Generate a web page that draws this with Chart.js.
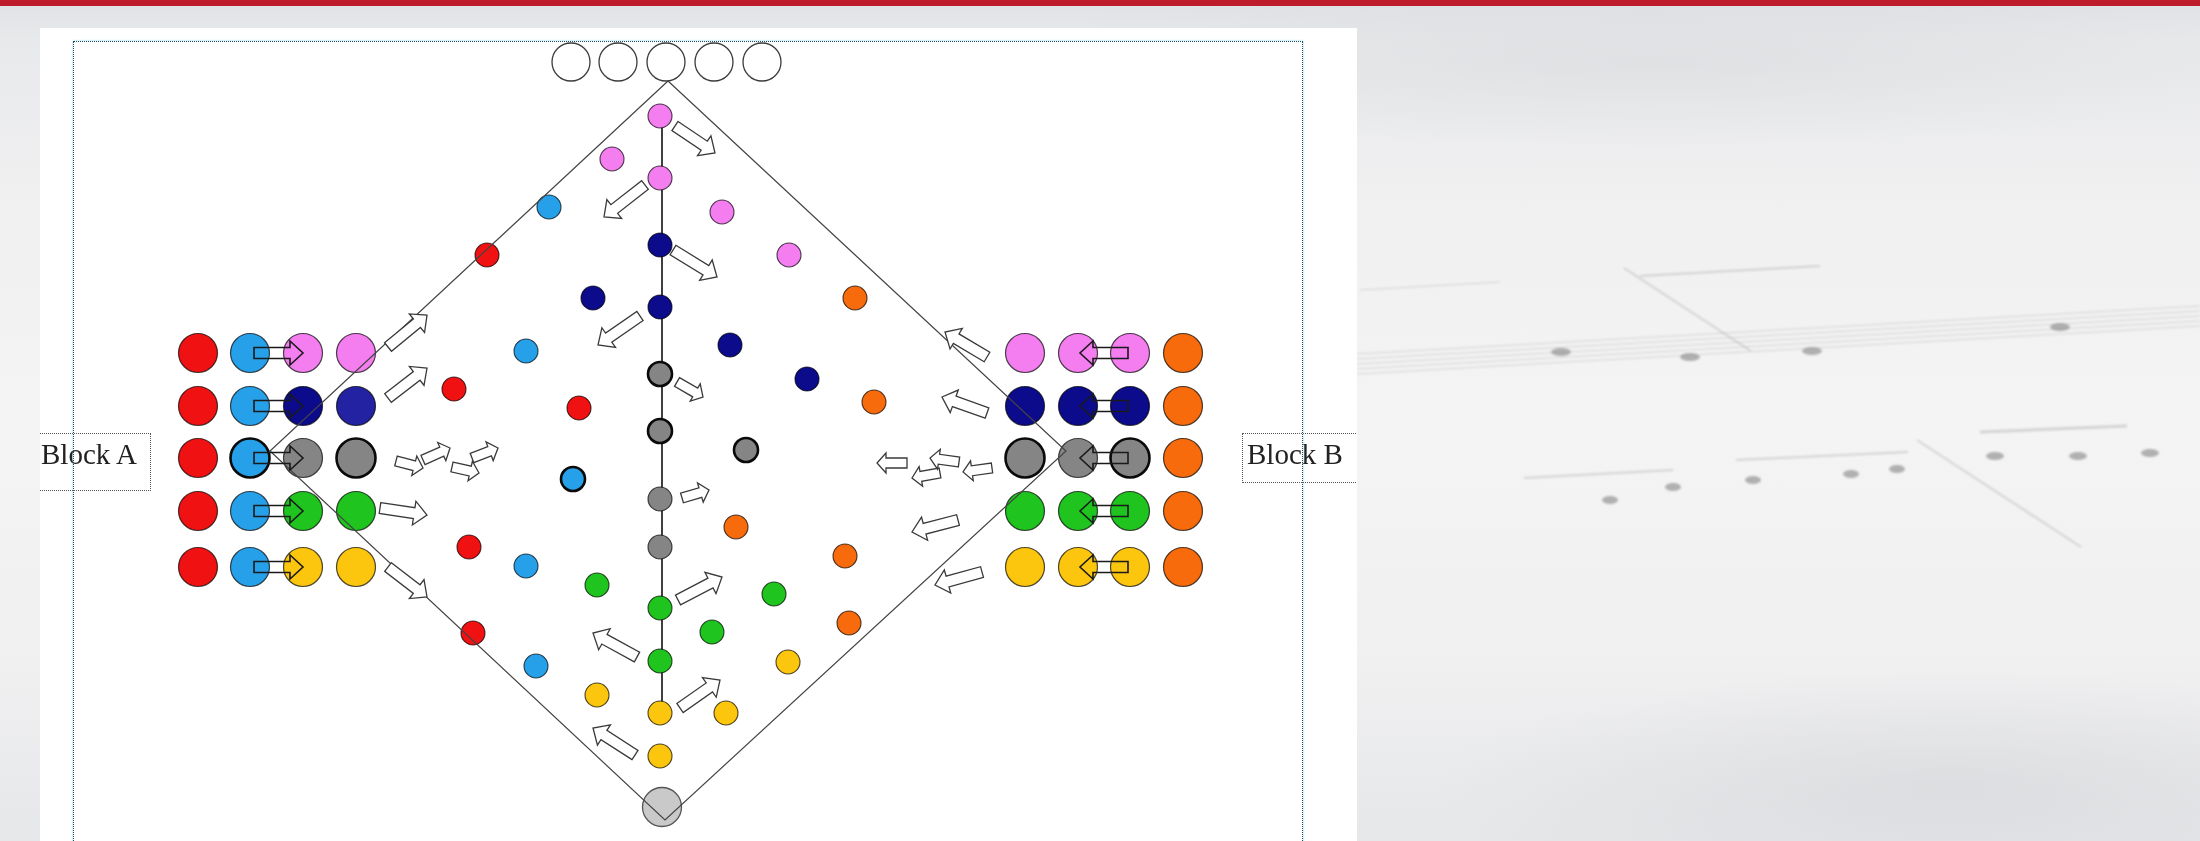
<!DOCTYPE html>
<html lang="en">

<head>
    <meta charset="UTF-8">
    <title>Block A / Block B drill</title>
    <script src="https://cdn.jsdelivr.net/npm/chart.js"></script>
    <style>
        html,
        body {
            margin: 0;
            padding: 0;
        }

        body {
            width: 2200px;
            height: 841px;
            overflow: hidden;
            position: relative;
            font-family: "Liberation Serif", "Times New Roman", serif;
            background:
                radial-gradient(ellipse 520px 120px at 1950px 790px, rgba(205, 206, 210, 0.45), rgba(205, 206, 210, 0)),
                radial-gradient(ellipse 650px 90px at 1650px 60px, rgba(212, 213, 216, 0.45), rgba(212, 213, 216, 0)),
                linear-gradient(to bottom, #e0e1e4 0px, #e8e9eb 40px, #f0f0f1 200px, #f4f4f5 430px, #f0f0f1 660px, #e6e7e9 841px);
        }

        #topbar {
            position: absolute;
            left: 0;
            top: 0;
            width: 2200px;
            height: 6px;
            background: #be1b2c;
        }

        #music {
            position: absolute;
            left: 0;
            top: 0;
            filter: blur(1.3px);
        }

        #panel {
            position: absolute;
            left: 40px;
            top: 28px;
            width: 1317px;
            height: 813px;
            background: #fff;
            overflow: hidden;
        }

        #chart {
            position: absolute;
            left: 0;
            top: 0;
        }

        .block {
            position: absolute;
            box-sizing: border-box;
            border: 1px dotted #555;
            font-size: 29px;
            line-height: 29px;
            color: #222;
            white-space: nowrap;
        }

        #blockA {
            left: -2px;
            top: 405px;
            width: 113px;
            height: 58px;
            padding: 6px 0 0 2px;
        }

        #blockB {
            left: 1202px;
            top: 405px;
            width: 140px;
            height: 50px;
            padding: 6px 0 0 4px;
        }

        #frame {
            position: absolute;
            left: 33px;
            top: 13px;
            width: 1230px;
            height: 900px;
            box-sizing: border-box;
            border: 1px dotted #1c4f66;
            box-shadow: 0 0 2px rgba(110, 200, 230, 0.8);
        }
    </style>
</head>

<body>
    <div id="topbar"></div>

    <!-- blurred sheet music behind the panel -->
    <svg id="music" width="2200" height="841">
        <g stroke="rgba(140,140,140,0.3)" stroke-width="1" fill="none">
            <line x1="1357" y1="354" x2="2200" y2="306" />
            <line x1="1357" y1="359" x2="2200" y2="311" />
            <line x1="1357" y1="364" x2="2200" y2="316" />
            <line x1="1357" y1="369" x2="2200" y2="321" />
            <line x1="1357" y1="374" x2="2200" y2="326" />
            <line x1="1360" y1="290" x2="1500" y2="282" />
            <line x1="1624" y1="268" x2="1751" y2="351" stroke-width="2" />
            <line x1="1917" y1="440" x2="2081" y2="547" stroke-width="2" />
            <line x1="1980" y1="432" x2="2127" y2="426" stroke-width="3" />
            <line x1="1736" y1="460" x2="1908" y2="452" stroke-width="2" />
            <line x1="1524" y1="478" x2="1673" y2="470" stroke-width="2" />
            <line x1="1640" y1="276" x2="1820" y2="266" stroke-width="2" />
        </g>
        <g fill="rgba(110,110,110,0.5)">
            <ellipse cx="1561" cy="352" rx="10" ry="4" />
            <ellipse cx="1690" cy="357" rx="10" ry="4" />
            <ellipse cx="1812" cy="351" rx="10" ry="4" />
            <ellipse cx="2060" cy="327" rx="10" ry="4" />
            <ellipse cx="1995" cy="456" rx="9" ry="4" />
            <ellipse cx="2078" cy="456" rx="9" ry="4" />
            <ellipse cx="2150" cy="453" rx="9" ry="4" />
            <ellipse cx="1753" cy="480" rx="8" ry="4" />
            <ellipse cx="1851" cy="474" rx="8" ry="4" />
            <ellipse cx="1897" cy="469" rx="8" ry="4" />
            <ellipse cx="1673" cy="487" rx="8" ry="4" />
            <ellipse cx="1610" cy="500" rx="8" ry="4" />
        </g>
    </svg>

    <div id="panel">
        <canvas id="chart" width="1317" height="813"></canvas>
        <div class="block" id="blockA">Block A</div>
        <div class="block" id="blockB">Block B</div>
        <div id="frame"></div>
    </div>

    <script>
        // field frame: origin at the middle of the diamond, x to the right, y up

        // players waiting in the two blocks (5 rows x 4 columns)
        const rowY = [97, 44, -8, -61, -117];
        const blockAX = [-468, -416, -363, -310];
        const blockBX = [359, 412, 464, 517];
        const blockATeams = [
            ['red', 'blue', 'pink', 'pink'],
            ['red', 'blue', 'navy', 'navy2'],
            ['red', 'blue', 'grey', 'grey'],
            ['red', 'blue', 'green', 'green'],
            ['red', 'blue', 'yellow', 'yellow']
        ];
        const blockBTeams = [
            ['pink', 'pink', 'pink', 'orange'],
            ['navy', 'navy', 'navy', 'orange'],
            ['grey', 'grey', 'grey', 'orange'],
            ['green', 'green', 'green', 'orange'],
            ['yellow', 'yellow', 'yellow', 'orange']
        ];
        // [row, column] of marked players
        const blockAMarked = [[2, 1], [2, 3]];
        const blockBMarked = [[2, 0], [2, 2]];

        // empty spots on top, ball at the bottom
        const benchX = [-95, -48, 0, 48, 96];
        const benchY = [388, 388, 388, 388, 388];
        const ballX = [-4];
        const ballY = [-357];

        // diamond and centre line
        const diamondX = [2, 400, -1, -396, 2];
        const diamondY = [369, -1, -370, -1, 369];
        const centreX = [-4, -4];
        const centreY = [334, -263];

        // players on the field
        const fieldX = [-6, -54, -6, 56, 123,
            -6, -73, -6, 64, 141,
            -117, -140, -93, -140, -130,
            -179, -212, -87, -197, -193,
            189, 208, 70, 179, 183,
            -6, -6, -6, -6, 80,
            -6, -6, -69, 108, 46,
            -6, -6, -69, 60, 122];
        const fieldY = [334, 291, 272, 238, 195,
            205, 152, 143, 105, 71,
            243, 99, -29, -116, -216,
            195, 61, 42, -97, -183,
            152, 48, -77, -106, -173,
            76, 19, -49, -97, 0,
            -158, -211, -135, -144, -182,
            -263, -306, -245, -263, -212];
        const fieldTeam = ['pink', 'pink', 'pink', 'pink', 'pink',
            'navy', 'navy', 'navy', 'navy', 'navy',
            'blue', 'blue', 'blue', 'blue', 'blue',
            'red', 'red', 'red', 'red', 'red',
            'orange', 'orange', 'orange', 'orange', 'orange',
            'grey', 'grey', 'grey', 'grey', 'grey',
            'green', 'green', 'green', 'green', 'green',
            'yellow', 'yellow', 'yellow', 'yellow', 'yellow'];
        const fieldMarked = [12, 25, 26, 29];

        // movement arrows: from -> to
        const moveFromX = [9, -21, 7, -26, -278, -278, -270, -243, -214, -194, -286, -278, 11, 16,
            12, -29, 14, -31, 321, 321, 241, 274, 293, 326, 292, 316];
        const moveFromY = [324, 265, 200, 134, 103, 52, -11, -10, -17, -8, -58, -117, 68, -48,
            -150, -207, -258, -305, 93, 37, -13, -23, -12, -18, -70, -122];
        const moveToX = [49, -62, 51, -68, -239, -239, -243, -216, -187, -168, -239, -239, 37, 43,
            56, -73, 54, -73, 279, 276, 211, 246, 264, 297, 246, 269];
        const moveToY = [297, 233, 173, 105, 135, 82, -18, 2, -23, 2, -65, -147, 53, -40,
            -127, -183, -230, -278, 118, 53, -13, -28, -8, -22, -82, -135];

        const palette = {
            red: '#f01212',
            blue: '#27a0ea',
            pink: '#f47ef0',
            navy: '#0b0b8c',
            navy2: '#2222a2',
            grey: '#858585',
            green: '#1fc41f',
            yellow: '#fcc60f',
            orange: '#f86b0c'
        };

        function blockPoints(cols, teams, marked) {
            const pts = [], fill = [], edge = [], width = [];
            rowY.forEach((y, r) => {
                cols.forEach((x, c) => {
                    const m = marked.some(p => p[0] === r && p[1] === c);
                    pts.push({ x: x, y: y });
                    fill.push(palette[teams[r][c]]);
                    edge.push(m ? '#0a0a0a' : 'rgba(0,0,0,0.7)');
                    width.push(m ? 2.6 : 1.2);
                });
            });
            return { pts, fill, edge, width };
        }

        const blockA = blockPoints(blockAX, blockATeams, blockAMarked);
        const blockB = blockPoints(blockBX, blockBTeams, blockBMarked);
        const zip = (xs, ys) => xs.map((v, i) => ({ x: v, y: ys[i] }));

        function drawArrow(ctx, x1, y1, x2, y2, fill, stroke, lw) {
            const len = Math.hypot(x2 - x1, y2 - y1);
            const small = len < 36;
            const w = small ? 5 : 5.5, hw = small ? 10 : 12, hl = small ? 9 : 13;
            ctx.save();
            ctx.translate(x1, y1);
            ctx.rotate(Math.atan2(y2 - y1, x2 - x1));
            ctx.beginPath();
            ctx.moveTo(0, -w);
            ctx.lineTo(len - hl, -w);
            ctx.lineTo(len - hl, -hw);
            ctx.lineTo(len, 0);
            ctx.lineTo(len - hl, hw);
            ctx.lineTo(len - hl, w);
            ctx.lineTo(0, w);
            ctx.closePath();
            if (fill) {
                ctx.fillStyle = fill;
                ctx.fill();
            }
            ctx.strokeStyle = stroke;
            ctx.lineWidth = lw;
            ctx.lineJoin = 'miter';
            ctx.stroke();
            ctx.restore();
        }

        const arrowPlugin = {
            id: 'arrows',
            afterDatasetsDraw(chart) {
                const { ctx, scales: { x, y } } = chart;
                // passes inside the blocks
                rowY.forEach(r => {
                    const py = y.getPixelForValue(r);
                    drawArrow(ctx, x.getPixelForValue(blockAX[1] + 4), py, x.getPixelForValue(blockAX[2]), py,
                        null, '#1a1a1a', 1.6);
                    drawArrow(ctx, x.getPixelForValue(blockBX[2] - 2), py, x.getPixelForValue(blockBX[1] + 2), py,
                        null, '#1a1a1a', 1.6);
                });
                // runs on the field
                moveFromX.forEach((v, i) => {
                    drawArrow(ctx, x.getPixelForValue(v), y.getPixelForValue(moveFromY[i]),
                        x.getPixelForValue(moveToX[i]), y.getPixelForValue(moveToY[i]),
                        '#ffffff', '#3a3a3a', 1.3);
                });
            }
        };

        new Chart(document.getElementById('chart'), {
            type: 'scatter',
            data: {
                datasets: [{
                    label: 'diamond',
                    data: zip(diamondX, diamondY),
                    showLine: true,
                    borderColor: '#444444',
                    borderWidth: 1.2,
                    pointRadius: 0,
                    clip: false,
                    order: 0
                }, {
                    label: 'field',
                    data: zip(fieldX, fieldY),
                    pointRadius: 12,
                    pointBackgroundColor: fieldTeam.map(t => palette[t]),
                    pointBorderColor: fieldTeam.map((t, i) => fieldMarked.includes(i) ? '#0a0a0a' : 'rgba(0,0,0,0.7)'),
                    pointBorderWidth: fieldTeam.map((t, i) => fieldMarked.includes(i) ? 2.6 : 1.1),
                    clip: false,
                    order: 1
                }, {
                    label: 'Block A',
                    data: blockA.pts,
                    pointRadius: 19.5,
                    pointBackgroundColor: blockA.fill,
                    pointBorderColor: blockA.edge,
                    pointBorderWidth: blockA.width,
                    clip: false,
                    order: 2
                }, {
                    label: 'Block B',
                    data: blockB.pts,
                    pointRadius: 19.5,
                    pointBackgroundColor: blockB.fill,
                    pointBorderColor: blockB.edge,
                    pointBorderWidth: blockB.width,
                    clip: false,
                    order: 2
                }, {
                    label: 'bench',
                    data: zip(benchX, benchY),
                    pointRadius: 19,
                    pointBackgroundColor: '#ffffff',
                    pointBorderColor: '#3c3c3c',
                    pointBorderWidth: 1.3,
                    clip: false,
                    order: 2
                }, {
                    label: 'ball',
                    data: zip(ballX, ballY),
                    pointRadius: 19.5,
                    pointBackgroundColor: '#c9c9c9',
                    pointBorderColor: '#555555',
                    pointBorderWidth: 1.3,
                    clip: false,
                    order: 2
                }, {
                    label: 'centre',
                    data: zip(centreX, centreY),
                    showLine: true,
                    borderColor: '#111111',
                    borderWidth: 1.6,
                    pointRadius: 0,
                    clip: false,
                    order: 3
                }]
            },
            options: {
                responsive: false,
                animation: false,
                devicePixelRatio: 1,
                events: [],
                layout: { padding: 0, autoPadding: false },
                plugins: {
                    legend: { display: false },
                    tooltip: { enabled: false }
                },
                scales: {
                    x: { type: 'linear', min: -626, max: 691, display: false },
                    y: { type: 'linear', min: -391, max: 422, display: false }
                }
            },
            plugins: [arrowPlugin]
        });
    </script>
</body>

</html>
